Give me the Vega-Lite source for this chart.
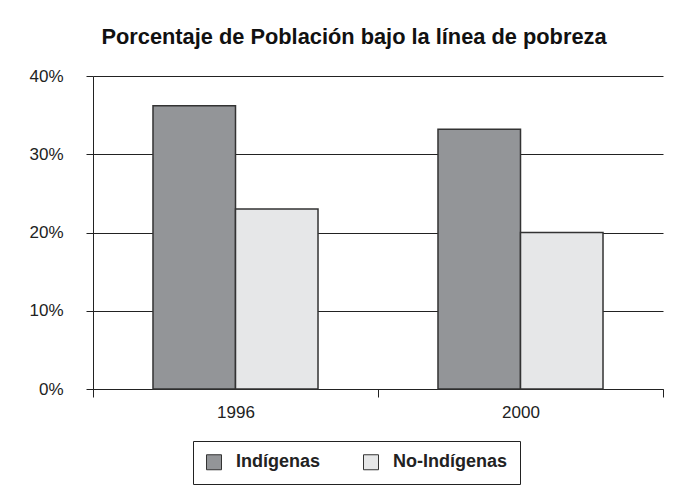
{
  "$schema": "https://vega.github.io/schema/vega-lite/v6.json",
  "autosize": {"type": "none"},
  "width": 570,
  "height": 313,
  "padding": {"left": 93, "top": 76, "right": 21, "bottom": 109},
  "background": "white",
  "title": {
    "text": "Porcentaje de Población bajo la línea de pobreza",
    "font": "Liberation Sans",
    "fontSize": 21.8,
    "fontWeight": "bold",
    "color": "#111",
    "anchor": "middle",
    "dx": -24,
    "offset": 18
  },
  "data": {
    "values": [
      {"year": "1996", "group": "Indígenas", "pct": 0.362},
      {"year": "1996", "group": "No-Indígenas", "pct": 0.23},
      {"year": "2000", "group": "Indígenas", "pct": 0.332},
      {"year": "2000", "group": "No-Indígenas", "pct": 0.2}
    ]
  },
  "mark": {"type": "bar", "stroke": "#333", "strokeWidth": 1.5},
  "encoding": {
    "x": {
      "field": "year",
      "type": "nominal",
      "scale": {"paddingInner": 0, "paddingOuter": 0},
      "axis": {
        "title": null,
        "labelAngle": 0,
        "tickBand": "extent",
        "tickSize": 8,
        "tickColor": "#222",
        "domainColor": "#222",
        "labelPadding": 7,
        "labelFont": "Liberation Sans",
        "labelFontSize": 17,
        "labelColor": "#222",
        "grid": false
      }
    },
    "xOffset": {
      "field": "group",
      "type": "nominal",
      "scale": {"paddingInner": 0, "paddingOuter": 0.727}
    },
    "y": {
      "field": "pct",
      "type": "quantitative",
      "scale": {"domain": [0, 0.4], "nice": false},
      "axis": {
        "title": null,
        "format": ".0%",
        "values": [0, 0.1, 0.2, 0.3, 0.4],
        "grid": true,
        "gridColor": "#222",
        "gridOpacity": 1,
        "gridWidth": 1,
        "tickSize": 7,
        "tickColor": "#222",
        "domainColor": "#222",
        "labelPadding": 23,
        "labelFont": "Liberation Sans",
        "labelFontSize": 17,
        "labelColor": "#222"
      }
    },
    "fill": {
      "field": "group",
      "type": "nominal",
      "scale": {"domain": ["Indígenas", "No-Indígenas"], "range": ["#939598", "#e6e7e8"]},
      "legend": {
        "title": null,
        "orient": "none",
        "direction": "horizontal",
        "legendX": 100,
        "legendY": 365,
        "strokeColor": "#222",
        "padding": 12,
        "symbolType": "square",
        "symbolSize": 225,
        "symbolStrokeColor": "#333",
        "symbolStrokeWidth": 1,
        "symbolOpacity": 1,
        "labelFont": "Liberation Sans",
        "labelFontSize": 18,
        "labelFontWeight": "bold",
        "labelColor": "#222",
        "labelOffset": 13,
        "columnPadding": 40
      }
    }
  },
  "config": {"view": {"stroke": null}}
}
